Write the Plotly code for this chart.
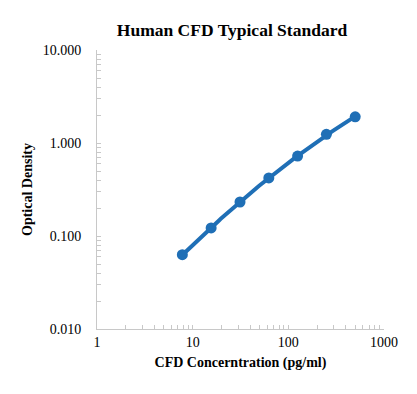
import numpy as np
import plotly.graph_objects as go

concentration = [7.8, 15.6, 31.25, 62.5, 125, 250, 500]
optical_density = [0.063, 0.122, 0.232, 0.421, 0.724, 1.24, 1.91]

x_tickvals = [1, 10, 100, 1000]
x_ticktext = ["1", "10", "100", "1000"]
y_tickvals = [0.01, 0.1, 1, 10]
y_ticktext = ["0.010", "0.100", "1.000", "10.000"]

color = "#1f6fb6"
font_family = "Liberation Serif, Times New Roman, serif"

# trend line: quadratic fit in log-log space
lx = np.log10(concentration)
ly = np.log10(optical_density)
coef = np.polyfit(lx, ly, 2)
fit_x = np.logspace(lx.min(), lx.max(), 100)
fit_y = 10 ** np.polyval(coef, np.log10(fit_x))

fig = go.Figure()
fig.add_trace(go.Scatter(x=fit_x, y=fit_y, mode="lines",
                         line=dict(color=color, width=4), hoverinfo="skip",
                         showlegend=False))
fig.add_trace(go.Scatter(x=concentration, y=optical_density, mode="markers",
                         marker=dict(color=color, size=11), showlegend=False))

axis_common = dict(
    type="log", showgrid=False, zeroline=False, automargin=False,
    showline=True, linecolor="#c8c8c8", linewidth=1,
    ticks="inside", ticklen=4, tickcolor="#c8c8c8",
    tickfont=dict(family=font_family, size=14, color="#000000"),
    minor=dict(ticks="inside", ticklen=4, tickcolor="#c8c8c8", dtick="D1", showgrid=False),
)

# page body has an 8px offset, margins compensate
W, H = 417, 394
fig.update_layout(
    width=W, height=H,
    margin=dict(l=89, r=41, t=42, b=73),
    paper_bgcolor="white", plot_bgcolor="white",
    title=dict(text="<b>Human CFD Typical Standard</b>", x=224 / W, xanchor="center",
               y=1 - 22 / H, yanchor="middle", automargin=False,
               font=dict(family=font_family, size=17.5, color="#000000")),
    xaxis=dict(axis_common, range=[0, 3], tickvals=x_tickvals, ticktext=x_ticktext,
               title=dict(text="<b>CFD Concerntration (pg/ml)</b>", standoff=8,
                          font=dict(family=font_family, size=14, color="#000000"))),
    yaxis=dict(axis_common, range=[-2, 1], tickvals=y_tickvals, ticktext=y_ticktext,
               ticklabelstandoff=12,
               title=dict(text="<b>Optical Density</b>", standoff=6,
                          font=dict(family=font_family, size=14, color="#000000"))),
)

fig.write_html("out.html")
